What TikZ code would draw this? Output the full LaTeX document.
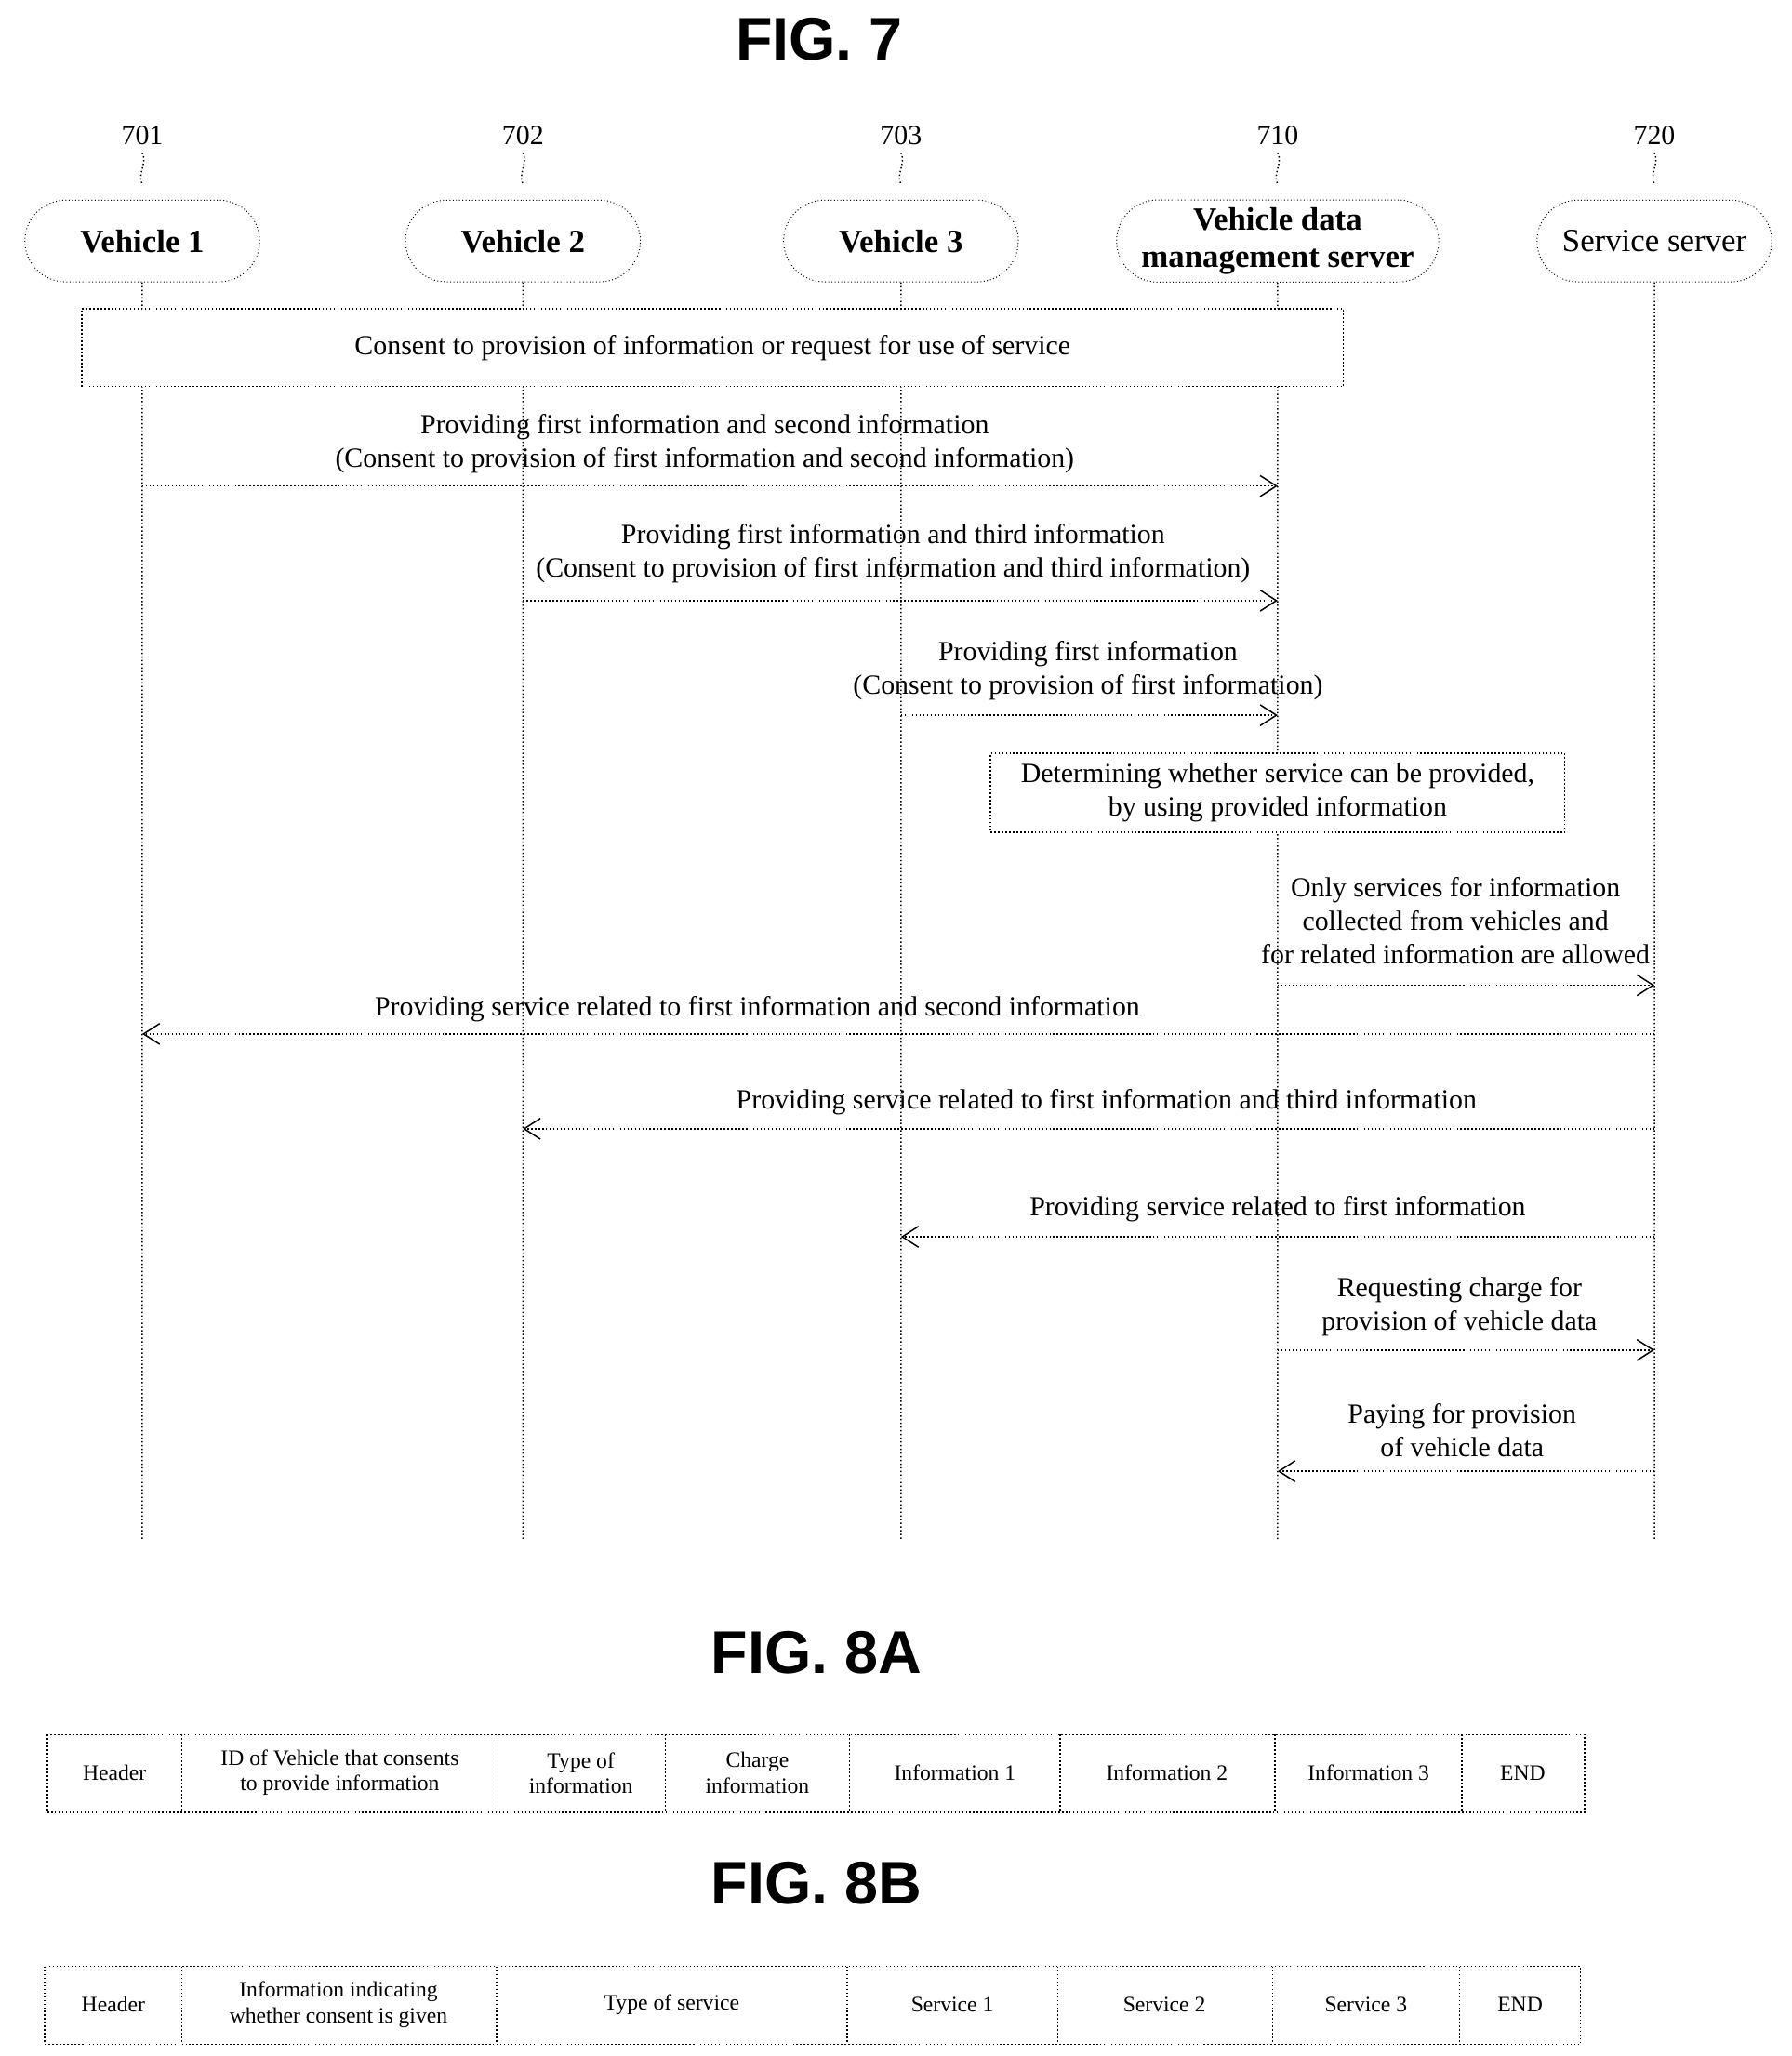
\documentclass[tikz,border=0pt]{standalone}
\usepackage{fontspec}
\setmainfont{Liberation Serif}
\newfontfamily\figfont{Liberation Sans}
\usetikzlibrary{arrows.meta,shapes.misc}
\begin{document}
\begin{tikzpicture}[x=0.02cm,y=-0.02cm,
  dl/.style={densely dotted,line width=0.6pt},
  head/.style={draw,densely dotted,rounded rectangle,minimum width=3.8cm,minimum height=1.24cm,font=\fontsize{14}{16}\selectfont\bfseries,align=center},
  msg/.style={dl,-{Straight Barb[length=7pt,width=9pt]}},
  lbl/.style={font=\fontsize{12}{14.5}\selectfont,align=center},
  ttl/.style={font=\figfont\fontsize{26}{30}\selectfont\bfseries},
  cell/.style={font=\fontsize{9.5}{11}\selectfont,align=center}]
\useasboundingbox (0,0) rectangle (1360,1561);
\node[ttl] (f7) at (622,30) {FIG. 7};
\foreach \x/\n/\t/\id in {108/701/Vehicle 1/a,397/702/Vehicle 2/b,684/703/Vehicle 3/c,970/710/{Vehicle data\\management server}/d,1256/720/{\mdseries Service server}/e}{
  \node[font=\fontsize{12}{14}\selectfont] (n\id) at (\x,103) {\n};
  \draw[dl] (\x,116) .. controls (\x+4,124) and (\x-4,132) .. (\x,140);
  \node[head] (h\id) at (\x,183) {\t};
  \coordinate (t\id) at (\x,1170);
  \draw[dl] (h\id) -- (t\id);
}
\node[draw,dl,fill=white,minimum width=19.16cm,minimum height=1.18cm,lbl] (cons) at (541,264) {Consent to provision of information or request for use of service};
\coordinate (a1) at (108,369); \coordinate (d1) at (970,369);
\draw[msg] (a1) -- (d1);
\node[lbl] (l1) at (535,337) {Providing first information and second information\\(Consent to provision of first information and second information)};
\coordinate (b2) at (397,456); \coordinate (d2) at (970,456);
\draw[msg] (b2) -- (d2);
\node[lbl] (l2) at (678,420) {Providing first information and third information\\(Consent to provision of first information and third information)};
\coordinate (c3) at (684,543); \coordinate (d3) at (970,543);
\draw[msg] (c3) -- (d3);
\node[lbl] (l3) at (826,509) {Providing first information\\(Consent to provision of first information)};
\node[draw,dl,fill=white,minimum width=8.72cm,minimum height=1.2cm,lbl] (det) at (970,602) {Determining whether service can be provided,\\by using provided information};
\coordinate (d4) at (970,748); \coordinate (e4) at (1256,748);
\draw[msg] (d4) -- (e4);
\node[lbl] (l4) at (1105,699) {Only services for information\\collected from vehicles and\\for related information are allowed};
\coordinate (e5) at (1256,785); \coordinate (a5) at (108,785);
\draw[msg] (e5) -- (a5);
\node[lbl] (l5) at (575,766) {Providing service related to first information and second information};
\coordinate (e6) at (1256,857); \coordinate (b6) at (397,857);
\draw[msg] (e6) -- (b6);
\node[lbl] (l6) at (840,837) {Providing service related to first information and third information};
\coordinate (e7) at (1256,939); \coordinate (c7) at (684,939);
\draw[msg] (e7) -- (c7);
\node[lbl] (l7) at (970,918) {Providing service related to first information};
\coordinate (d8) at (970,1025); \coordinate (e8) at (1256,1025);
\draw[msg] (d8) -- (e8);
\node[lbl] (l8) at (1108,992) {Requesting charge for\\provision of vehicle data};
\coordinate (e9) at (1256,1117); \coordinate (d9) at (970,1117);
\draw[msg] (e9) -- (d9);
\node[lbl] (l9) at (1110,1086) {Paying for provision\\of vehicle data};
\node[ttl] (f8a) at (620,1255) {FIG. 8A};
\draw[dl] (36,1317) rectangle (1203,1376);
\foreach \x in {138,378,505,645,805,968,1110} \draw[dl] (\x,1317) -- (\x,1376);
\foreach \x/\t in {87/Header,258/{ID of Vehicle that consents\\to provide information},441/{Type of\\information},575/{Charge\\information},725/Information 1,886/Information 2,1039/Information 3,1156/END}
  \node[cell] at (\x,1346) {\t};
\node[ttl] (f8b) at (620,1430) {FIG. 8B};
\draw[dl] (34,1493) rectangle (1200,1552);
\foreach \x in {138,377,643,803,966,1108} \draw[dl] (\x,1493) -- (\x,1552);
\foreach \x/\t in {86/Header,257/{Information indicating\\whether consent is given},510/Type of service,723/Service 1,884/Service 2,1037/Service 3,1154/END}
  \node[cell] at (\x,1522) {\t};
\end{tikzpicture}
\end{document}
